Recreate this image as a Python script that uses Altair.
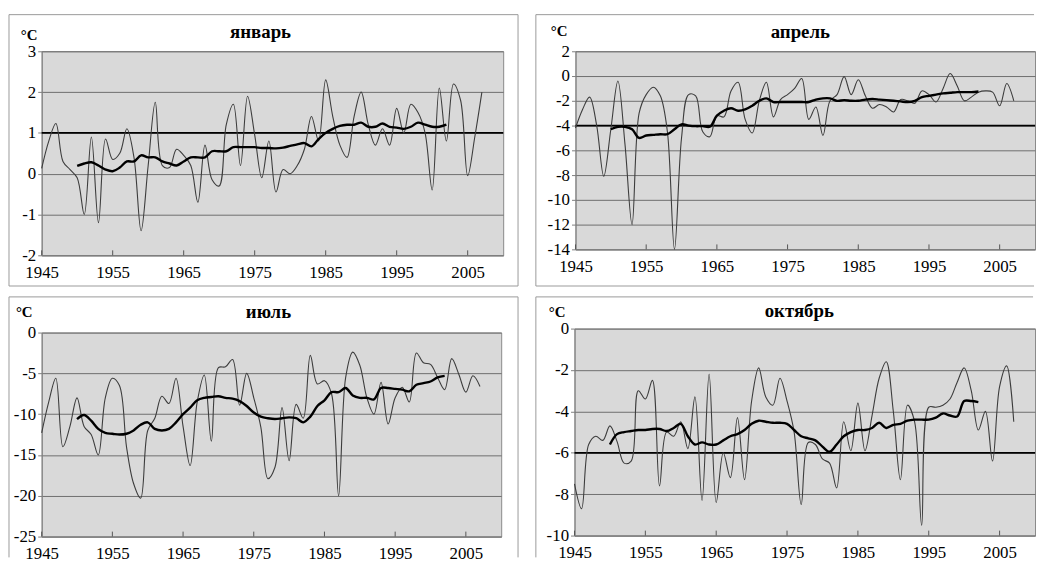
import altair as alt
import pandas as pd

years = list(range(1945, 2008))
ma_years = list(range(1950, 2003))
x_ticks = [1945, 1955, 1965, 1975, 1985, 1995, 2005]

titles = ["январь", "апрель", "июль", "октябрь"]

jan = [0.13, 0.8, 1.23, 0.3, 0.1, -0.1, -1.0, 0.9, -1.2, 0.85,
       0.35, 0.5, 1.1, 0.4, -1.4, 0.2, 1.75, 0.2, 0.15, 0.6,
       0.45, 0.2, -0.7, 0.7, -0.15, -0.3, 1.2, 1.7, 0.2, 1.9,
       0.95, -0.1, 0.8, -0.45, 0.1, 0.0, 0.2, 0.6, 1.4, 0.8,
       2.3, 1.4, 0.7, 0.4, 1.4, 2.0, 1.2, 0.7, 1.1, 0.7,
       1.6, 1.0, 1.7, 1.5, 1.0, -0.4, 2.1, 0.8, 2.2, 1.8,
       -0.05, 0.9, 2.0]
jan_ma = [0.19, 0.25, 0.28, 0.2, 0.1, 0.06, 0.15, 0.3, 0.3, 0.45,
          0.4, 0.4, 0.3, 0.25, 0.2, 0.3, 0.4, 0.4, 0.4, 0.55,
          0.55, 0.55, 0.65, 0.65, 0.65, 0.65, 0.63, 0.63, 0.62, 0.64,
          0.68, 0.72, 0.75, 0.67, 0.85, 1.0, 1.1, 1.17, 1.2, 1.2,
          1.25, 1.15, 1.15, 1.23, 1.15, 1.13, 1.1, 1.15, 1.25, 1.2,
          1.15, 1.15, 1.2]

apr = [-4.2, -2.7, -1.7, -4.0, -8.1, -4.3, -0.4, -5.5, -12.0, -3.0,
       -1.5, -0.9, -1.6, -4.5, -14.0, -5.0, -1.5, -1.6, -4.5, -4.9,
       -3.2, -3.3, -1.2, -0.5, -3.5, -4.6, -2.0, -0.5, -3.3, -1.9,
       -1.5, -1.0, -0.2, -3.5, -2.5, -4.8, -2.0, -1.5, -0.05, -1.5,
       -0.3, -1.6, -2.6, -2.3, -2.5, -2.9, -1.9, -2.0, -2.2, -1.2,
       -1.5, -2.1, -1.0, 0.2, -0.8, -2.0, -1.7, -1.3, -1.2, -1.3,
       -2.4, -0.6, -2.0]
apr_ma = [-4.3, -4.1, -4.1, -4.3, -5.0, -4.8, -4.75, -4.7, -4.7, -4.3,
          -3.9, -4.0, -4.05, -4.05, -4.1, -3.2, -2.8, -2.6, -2.8, -2.7,
          -2.4, -2.0, -1.8, -2.1, -2.1, -2.1, -2.1, -2.1, -2.1, -1.9,
          -1.8, -1.8, -2.0, -1.95, -2.0, -2.0, -1.9, -1.85, -1.9, -1.95,
          -2.0, -2.05, -2.1, -2.0, -1.7, -1.6, -1.5, -1.4, -1.35, -1.3,
          -1.3, -1.3, -1.25]

jul = [-12.3, -8.5, -5.6, -14.0, -11.5, -8.0, -11.5, -12.5, -15.0, -8.0,
       -5.6, -6.5, -14.0, -18.5, -20.3, -12.0, -10.5, -7.8, -8.7, -5.6,
       -11.5, -16.3, -8.5, -5.2, -13.3, -4.3, -4.2, -3.3, -8.9, -5.0,
       -8.0, -11.6, -17.9, -16.5, -9.2, -15.7, -8.8, -10.5, -2.8, -6.3,
       -5.9, -7.5, -20.0, -5.5, -2.4, -4.0, -8.0, -10.0, -6.1, -11.2,
       -8.0, -6.7, -8.5, -2.5, -3.7, -3.9, -5.5, -7.0, -3.2, -5.1,
       -7.3, -5.3, -6.6]
jul_ma = [-10.6, -10.1, -10.8, -11.8, -12.3, -12.4, -12.5, -12.4, -12.0, -11.3,
          -11.0, -11.8, -12.0, -11.8, -11.0, -10.0, -9.2, -8.3, -8.0, -7.9,
          -7.8, -8.0, -8.1, -8.4, -9.0, -9.8, -10.3, -10.5, -10.6, -10.5,
          -10.4, -10.5, -11.0, -10.3, -9.0, -8.3, -7.3, -7.3, -6.8, -7.7,
          -8.0, -8.0, -8.2, -6.8, -6.8, -6.9, -7.0, -7.2, -6.4, -6.2,
          -6.0, -5.5, -5.3]

octo = [-7.5, -8.7, -5.6, -5.2, -5.4, -4.7, -5.45, -6.5, -6.4, -3.0,
        -3.4, -2.5, -7.6, -5.0, -5.2, -4.5, -5.8, -3.3, -8.3, -2.2,
        -8.4, -6.0, -7.2, -4.3, -7.3, -3.5, -1.9, -3.3, -3.7, -2.4,
        -3.5, -5.0, -8.5, -5.5, -5.6, -6.3, -6.5, -7.7, -4.5, -5.9,
        -3.6, -5.9, -4.2, -2.4, -1.6, -4.0, -7.3, -3.7, -4.5, -9.5,
        -3.8, -3.8, -3.7, -3.4, -2.6, -1.9, -3.0, -4.9, -4.0, -6.4,
        -2.8, -1.8, -4.5]
octo_ma = [-5.6, -5.1, -5.0, -4.95, -4.9, -4.9, -4.85, -4.85, -4.95, -4.8,
           -4.6, -5.2, -5.6, -5.5, -5.6, -5.6, -5.4, -5.2, -5.1, -4.9,
           -4.6, -4.45, -4.5, -4.55, -4.55, -4.6, -4.9, -5.2, -5.3, -5.4,
           -5.7, -5.95, -5.6, -5.2, -5.0, -4.9, -4.9, -4.8, -4.55, -4.8,
           -4.65, -4.6, -4.45, -4.4, -4.4, -4.4, -4.3, -4.1, -4.2, -4.25,
           -3.5, -3.5, -3.55]

y_domains = [[-2, 3], [-14, 2], [-25, 0], [-10, 0]]
y_ticks = [[-2, -1, 0, 1, 2, 3],
           [-14, -12, -10, -8, -6, -4, -2, 0, 2],
           [-25, -20, -15, -10, -5, 0],
           [-10, -8, -6, -4, -2, 0]]
norms = [1, -4, None, -6]

SERIF = "Liberation Serif"
BOX = "#9a9a9a"
LABEL_EXPR = "datum.value < 0 ? '-' + (-datum.value) : '' + datum.value"

# layout (pixels): plot size, text offsets and decorative frame sides
layout = [
    dict(w=466, h=206, cx=-21, cy=-11, tx=221, ty=-13,
         frame=dict(l=-33, t=-37, r=481, b=237, sides="ltrb")),
    dict(w=464, h=200, cx=-25, cy=-15, tx=227, ty=-13,
         frame=dict(l=-40, t=-37, r=463, b=237, sides="ltb")),
    dict(w=464, h=206, cx=-26, cy=-16, tx=229, ty=-15,
         frame=dict(l=-33, t=-36, r=481, b=227, sides="ltr")),
    dict(w=465, h=209, cx=-26, cy=-12, tx=227, ty=-12,
         frame=dict(l=-39, t=-32, r=463, b=231, sides="lt")),
]

one = pd.DataFrame({"a": [0]})


def panel(i, thin, ma):
    L = layout[i]
    w, h = L["w"], L["h"]
    xs = alt.X("year:Q",
               scale=alt.Scale(domain=[1945, 2010], nice=False, zero=False),
               axis=alt.Axis(values=x_ticks, format="d", grid=False, tickSize=0,
                             labelPadding=9, labelFlush=False, title=None,
                             labelOverlap=False, labelFont=SERIF, labelFontSize=17,
                             labelColor="black", domainColor="#808080"))
    ys = alt.Y("v:Q",
               scale=alt.Scale(domain=y_domains[i], nice=False, zero=False),
               axis=alt.Axis(values=y_ticks[i], grid=True, tickSize=4,
                             labelPadding=2, labelFlush=False, title=None,
                             labelOverlap=False, labelExpr=LABEL_EXPR,
                             labelFont=SERIF, labelFontSize=17, labelColor="black",
                             domainColor="#808080", tickColor="#808080",
                             gridColor="#6e6e6e", gridWidth=1))
    d_thin = pd.DataFrame({"year": years, "v": thin})
    d_ma = pd.DataFrame({"year": ma_years, "v": ma})
    layers = []
    if norms[i] is not None:
        layers.append(alt.Chart(pd.DataFrame({"v": [norms[i]]})).mark_rule(
            color="black", strokeWidth=1.8).encode(y=ys))
    layers.append(alt.Chart(d_thin).mark_line(
        interpolate="catmull-rom", color="#3c3c3c", strokeWidth=1.1).encode(x=xs, y=ys))
    layers.append(alt.Chart(d_ma).mark_line(
        interpolate="catmull-rom", color="black", strokeWidth=2.4).encode(x=xs, y=ys))
    layers.append(alt.Chart(pd.DataFrame({"year": x_ticks})).mark_rule(
        color="#555555", strokeWidth=1).encode(x=xs, y=alt.value(h - 5), y2=alt.value(h)))
    layers.append(alt.Chart(one).mark_text(
        text=titles[i], font=SERIF, fontSize=19, fontWeight="bold", align="center",
        baseline="alphabetic", color="black").encode(x=alt.value(L["tx"]), y=alt.value(L["ty"])))
    layers.append(alt.Chart(one).mark_text(
        text="°C", font=SERIF, fontSize=15, fontWeight="bold", align="left",
        baseline="alphabetic", color="black").encode(x=alt.value(L["cx"]), y=alt.value(L["cy"])))
    f = L["frame"]
    segs = []
    if "t" in f["sides"]:
        segs.append((f["l"], f["r"], f["t"], f["t"]))
    if "b" in f["sides"]:
        segs.append((f["l"], f["r"], f["b"], f["b"]))
    if "l" in f["sides"]:
        segs.append((f["l"], f["l"], f["t"], f["b"]))
    if "r" in f["sides"]:
        segs.append((f["r"], f["r"], f["t"], f["b"]))
    for (x1, x2, y1, y2) in segs:
        layers.append(alt.Chart(one).mark_rule(color=BOX, strokeWidth=1).encode(
            x=alt.value(x1), x2=alt.value(x2), y=alt.value(y1), y2=alt.value(y2)))
    return alt.layer(*layers).properties(width=w, height=h)


p1 = panel(0, jan, jan_ma)
p2 = panel(1, apr, apr_ma)
p3 = panel(2, jul, jul_ma)
p4 = panel(3, octo, octo_ma)

chart = alt.concat(
    p1, p2, p3, p4,
    columns=2,
    align="none",
    spacing={"row": 9, "column": 16},
).properties(
    padding={"left": 0, "top": 3, "right": 0, "bottom": 0},
    background="white",
).configure_view(
    fill="#d9d9d9", stroke="#8a8a8a", strokeWidth=1,
)

chart.save("out.html", embed_options={"renderer": "svg", "actions": False})
